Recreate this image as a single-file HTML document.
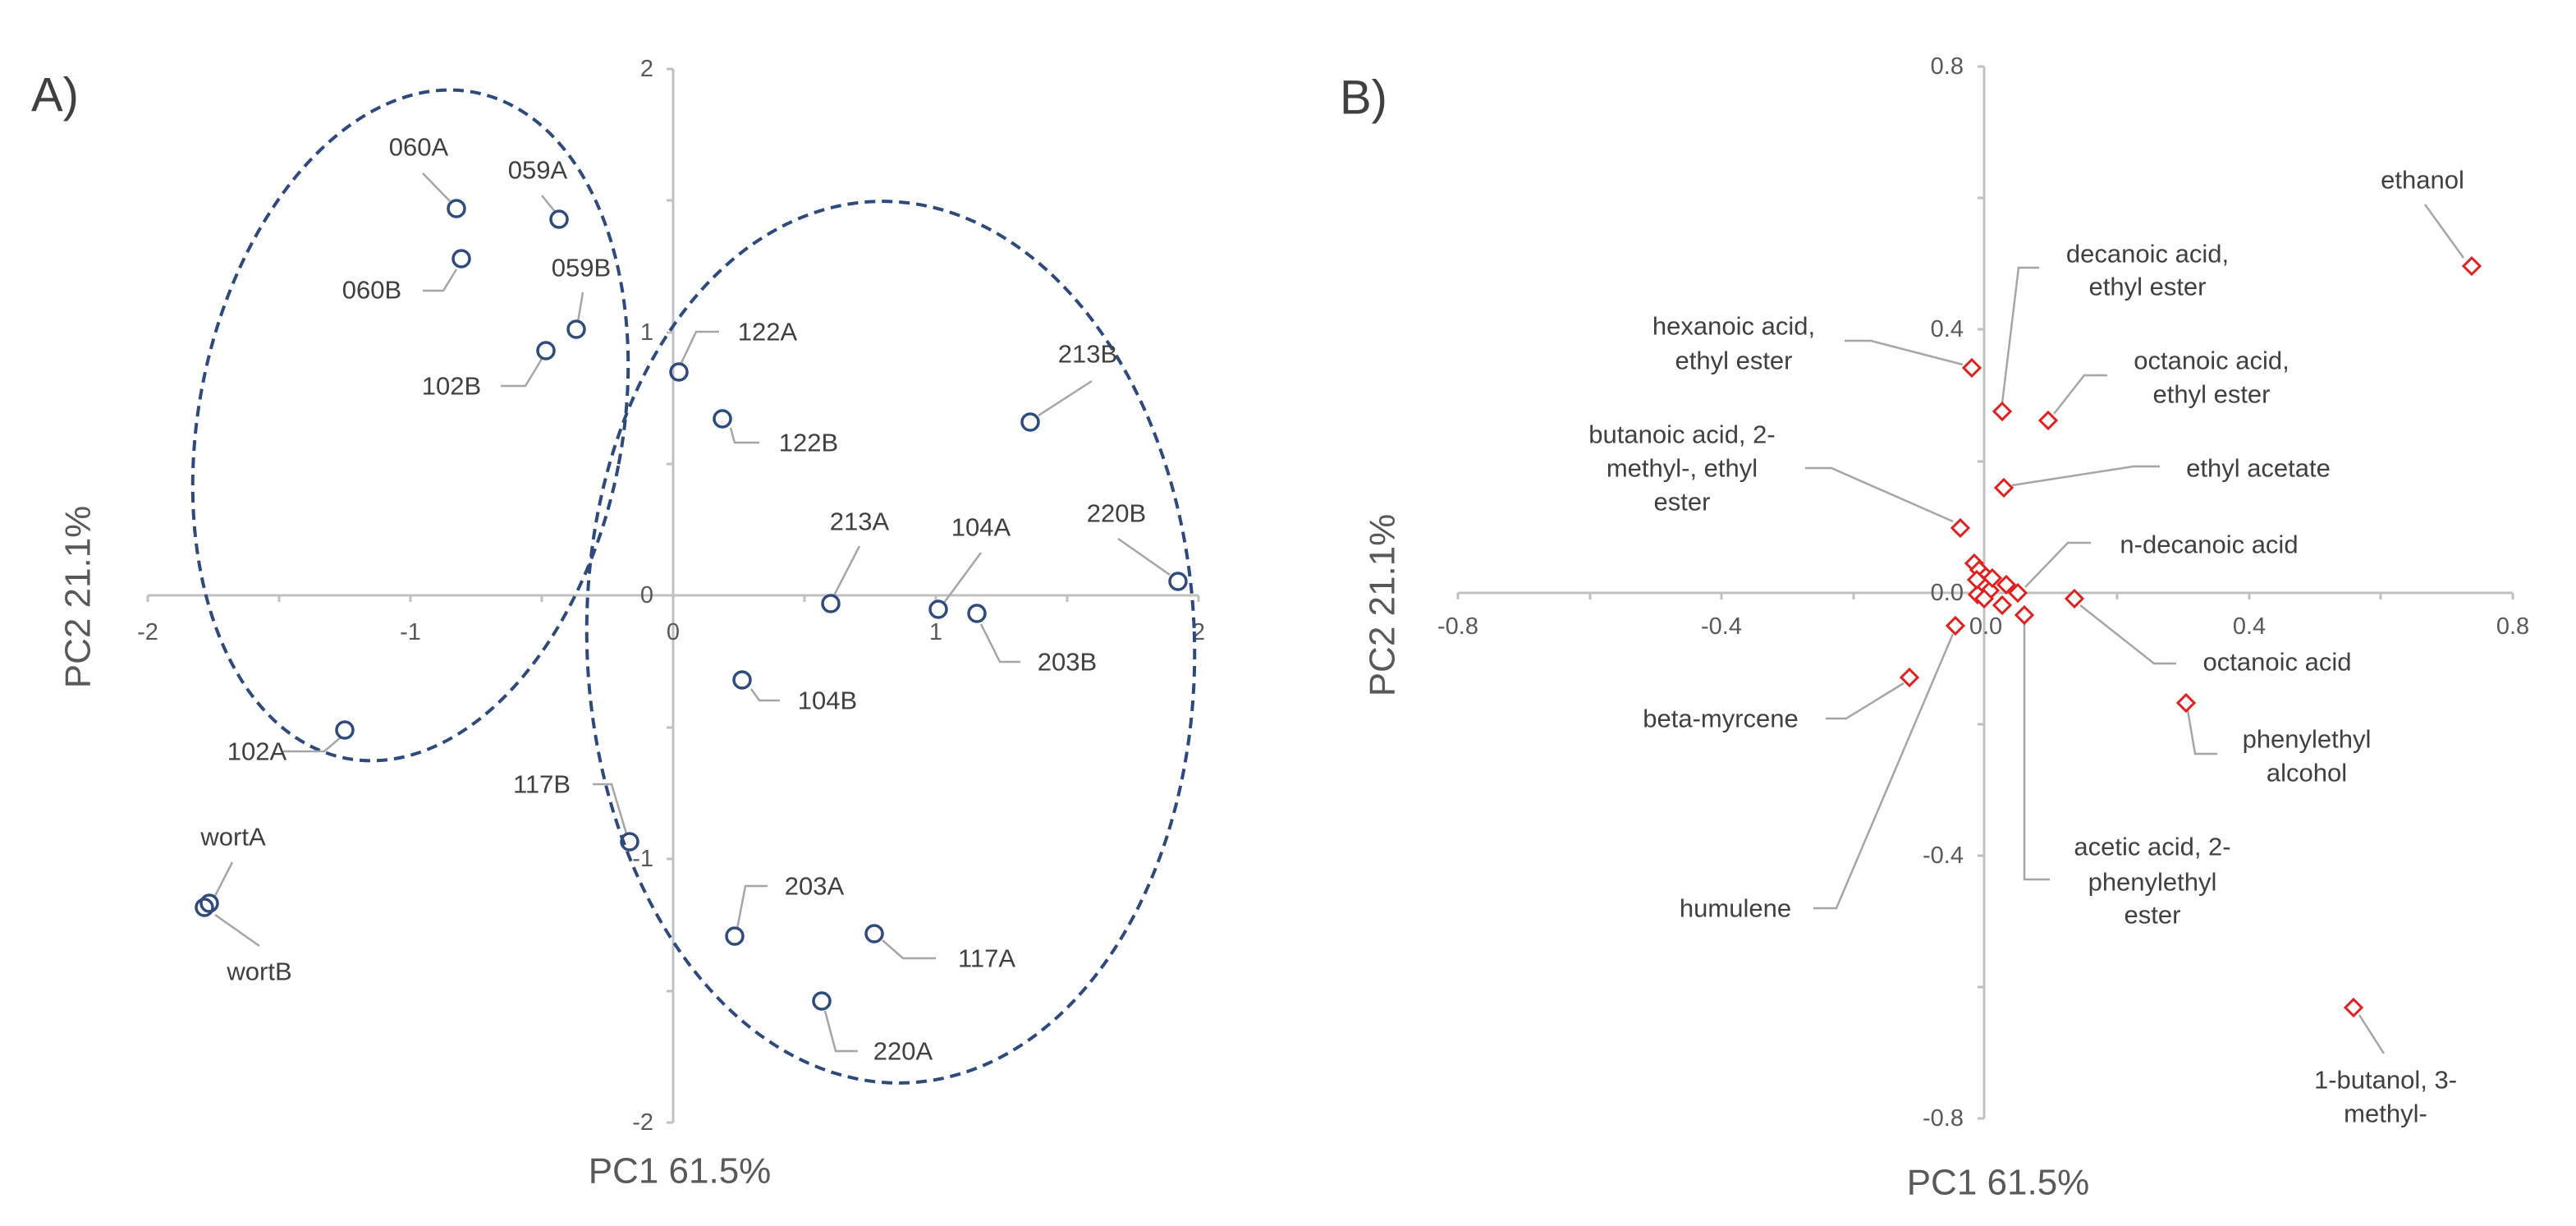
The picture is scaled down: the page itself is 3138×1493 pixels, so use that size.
<!DOCTYPE html>
<html><head><meta charset="utf-8"><style>
html,body{margin:0;padding:0;background:#fff;}
svg{display:block;}
text{font-family:"Liberation Sans",Arial,sans-serif;}
.lb{font-size:31px;fill:#404040;text-anchor:middle;dominant-baseline:central;}
.tk{font-size:29px;fill:#595959;dominant-baseline:central;}
.ax{stroke:#c0c0c0;stroke-width:3;fill:none;}
.ld{stroke:#a6a6a6;stroke-width:2.5;fill:none;}
.pt{stroke:#2f4b7c;stroke-width:3.5;fill:none;}
.dm{stroke:#e0201e;stroke-width:3;fill:#fff;}
.el{stroke:#2e4a7d;stroke-width:4;fill:none;stroke-dasharray:13 8;}
.tt{font-size:44px;fill:#595959;text-anchor:middle;dominant-baseline:central;}
</style></head><body>
<svg width="3138" height="1493" viewBox="0 0 3138 1493" xmlns="http://www.w3.org/2000/svg">
<!-- Panel A -->
<text x="38" y="116" font-size="58" fill="#404040" dominant-baseline="central">A)</text>
<line class="ax" x1="820" y1="84" x2="820" y2="1367"/>
<line class="ax" x1="180" y1="725" x2="1460" y2="725"/>
<g class="ax">
<path d="M812 84H820M812 244H820M812 405H820M812 565H820M812 886H820M812 1046H820M812 1207H820M812 1367H820"/>
<path d="M180 725V733M340 725V733M500 725V733M660 725V733M980 725V733M1140 725V733M1300 725V733M1460 725V733"/>
</g>
<g class="tk" text-anchor="end">
<text x="796" y="84">2</text><text x="796" y="405">1</text><text x="796" y="725">0</text><text x="796" y="1046">-1</text><text x="796" y="1367">-2</text>
</g>
<g class="tk" text-anchor="middle">
<text x="180" y="770">-2</text><text x="500" y="770">-1</text><text x="820" y="770">0</text><text x="1140" y="770">1</text><text x="1460" y="770">2</text>
</g>
<ellipse class="el" cx="500" cy="518" rx="258" ry="413" transform="rotate(11 500 518)"/>
<ellipse class="el" cx="1085" cy="782" rx="370" ry="537" transform="rotate(-2 1085 782)"/>
<g class="ld">
<path d="M515 211L548 245"/>
<path d="M660 238L677 259"/>
<path d="M515 354H540L556 328"/>
<path d="M710 356L704 392"/>
<path d="M610 470H640L660 437"/>
<path d="M876 404H848L830 442"/>
<path d="M890 521L895 539H925"/>
<path d="M1330 464L1265 506"/>
<path d="M1362 656L1425 700"/>
<path d="M1047 665L1015 727"/>
<path d="M1195 673L1150 734"/>
<path d="M1195 760L1218 806H1243"/>
<path d="M915 839L925 853H950"/>
<path d="M345 915H395L415 898"/>
<path d="M722 955H745L763 1015"/>
<path d="M283 1050L262 1091"/>
<path d="M316 1152L262 1114"/>
<path d="M935 1079H908L898 1131"/>
<path d="M1075 1145L1100 1167H1140"/>
<path d="M1005 1231L1018 1280H1045"/>
</g>
<g class="pt">
<circle cx="556" cy="254" r="10"/><circle cx="681" cy="267" r="10"/><circle cx="562" cy="315" r="10"/>
<circle cx="702" cy="401" r="10"/><circle cx="665" cy="427" r="10"/><circle cx="827" cy="453" r="10"/>
<circle cx="880" cy="510" r="10"/><circle cx="1255" cy="514" r="10"/><circle cx="1435" cy="708" r="10"/>
<circle cx="1012" cy="735" r="10"/><circle cx="1143" cy="742" r="10"/><circle cx="1190" cy="747" r="10"/>
<circle cx="904" cy="828" r="10"/><circle cx="420" cy="889" r="10"/><circle cx="767" cy="1025" r="10"/>
<circle cx="255" cy="1100" r="10"/><circle cx="249" cy="1105" r="10"/><circle cx="895" cy="1140" r="10"/>
<circle cx="1065" cy="1137" r="10"/><circle cx="1001" cy="1219" r="10"/>
</g>
<g class="lb">
<text x="510" y="179">060A</text><text x="655" y="207">059A</text><text x="453" y="353">060B</text>
<text x="708" y="326">059B</text><text x="550" y="470">102B</text><text x="935" y="404">122A</text>
<text x="985" y="539">122B</text><text x="1325" y="431">213B</text><text x="1360" y="625">220B</text>
<text x="1047" y="635">213A</text><text x="1195" y="642">104A</text><text x="1300" y="806">203B</text>
<text x="1008" y="853">104B</text><text x="313" y="915">102A</text><text x="660" y="955">117B</text>
<text x="284" y="1019">wortA</text><text x="316" y="1183">wortB</text><text x="992" y="1079">203A</text>
<text x="1202" y="1167">117A</text><text x="1100" y="1280">220A</text>
</g>
<text class="tt" x="828" y="1426">PC1 61.5%</text>
<text class="tt" x="95" y="727" transform="rotate(-90 95 727)">PC2 21.1%</text>

<!-- Panel B -->
<text x="1632" y="119" font-size="58" fill="#404040" dominant-baseline="central">B)</text>
<line class="ax" x1="2417" y1="81" x2="2417" y2="1362"/>
<line class="ax" x1="1776" y1="722" x2="3061" y2="722"/>
<g class="ax">
<path d="M2409 81H2417M2409 241H2417M2409 401H2417M2409 562H2417M2409 882H2417M2409 1042H2417M2409 1202H2417M2409 1362H2417"/>
<path d="M1776 722V730M1937 722V730M2097 722V730M2258 722V730M2579 722V730M2740 722V730M2900 722V730M3061 722V730"/>
</g>
<g class="tk" text-anchor="end">
<text x="2392" y="81">0.8</text><text x="2392" y="401">0.4</text><text x="2392" y="722">0.0</text><text x="2392" y="1042">-0.4</text><text x="2392" y="1362">-0.8</text>
</g>
<g class="tk" text-anchor="middle">
<text x="1776" y="763">-0.8</text><text x="2097" y="763">-0.4</text><text x="2419" y="763">0.0</text><text x="2740" y="763">0.4</text><text x="3061" y="763">0.8</text>
</g>
<g class="ld">
<path d="M2954 249L3001 314"/>
<path d="M2484 326H2459L2439 491"/>
<path d="M2247 415H2279L2391 444"/>
<path d="M2567 457H2539L2502 504"/>
<path d="M2631 568H2599L2451 591"/>
<path d="M2199 570H2231L2379 635"/>
<path d="M2547 661H2519L2467 715"/>
<path d="M2651 808H2624L2534 737"/>
<path d="M2701 918H2674L2665 865"/>
<path d="M2497 1071H2466V758"/>
<path d="M2224 875H2249L2319 832"/>
<path d="M2209 1106H2237L2379 772"/>
<path d="M2904 1283L2874 1236"/>
</g>
<g class="dm">
<path d="M3011 314l10 10l-10 10l-10 -10z"/>
<path d="M2439 491l10 10l-10 10l-10 -10z"/>
<path d="M2402 438l10 10l-10 10l-10 -10z"/>
<path d="M2495 502l10 10l-10 10l-10 -10z"/>
<path d="M2441 584l10 10l-10 10l-10 -10z"/>
<path d="M2388 633l10 10l-10 10l-10 -10z"/>
<path d="M2527 719l10 10l-10 10l-10 -10z"/>
<path d="M2458 712l10 10l-10 10l-10 -10z"/>
<path d="M2382 752l10 10l-10 10l-10 -10z"/>
<path d="M2466 739l10 10l-10 10l-10 -10z"/>
<path d="M2326 815l10 10l-10 10l-10 -10z"/>
<path d="M2663 846l10 10l-10 10l-10 -10z"/>
<path d="M2867 1217l10 10l-10 10l-10 -10z"/>
<path d="M2405 676l10 10l-10 10l-10 -10z"/>
<path d="M2411 684l10 10l-10 10l-10 -10z"/>
<path d="M2419 692l10 10l-10 10l-10 -10z"/>
<path d="M2415 702l10 10l-10 10l-10 -10z"/>
<path d="M2424 709l10 10l-10 10l-10 -10z"/>
<path d="M2409 714l10 10l-10 10l-10 -10z"/>
<path d="M2417 719l10 10l-10 10l-10 -10z"/>
<path d="M2444 702l10 10l-10 10l-10 -10z"/>
<path d="M2439 727l10 10l-10 10l-10 -10z"/>
<path d="M2427 694l10 10l-10 10l-10 -10z"/>
<path d="M2408 696l10 10l-10 10l-10 -10z"/>
</g>
<g class="lb">
<text x="2951" y="219">ethanol</text>
<text x="2616" y="309">decanoic acid,</text><text x="2616" y="349">ethyl ester</text>
<text x="2112" y="397">hexanoic acid,</text><text x="2112" y="439">ethyl ester</text>
<text x="2694" y="439">octanoic acid,</text><text x="2694" y="480">ethyl ester</text>
<text x="2751" y="570">ethyl acetate</text>
<text x="2049" y="529">butanoic acid, 2-</text><text x="2049" y="570">methyl-, ethyl</text><text x="2049" y="611">ester</text>
<text x="2691" y="663">n-decanoic acid</text>
<text x="2774" y="806">octanoic acid</text>
<text x="2810" y="900">phenylethyl</text><text x="2810" y="941">alcohol</text>
<text x="2622" y="1031">acetic acid, 2-</text><text x="2622" y="1074">phenylethyl</text><text x="2622" y="1114">ester</text>
<text x="2096" y="875">beta-myrcene</text>
<text x="2114" y="1106">humulene</text>
<text x="2906" y="1315">1-butanol, 3-</text><text x="2906" y="1356">methyl-</text>
</g>
<text class="tt" x="2434" y="1440">PC1 61.5%</text>
<text class="tt" x="1684" y="737" transform="rotate(-90 1684 737)">PC2 21.1%</text>
</svg>
</body></html>
